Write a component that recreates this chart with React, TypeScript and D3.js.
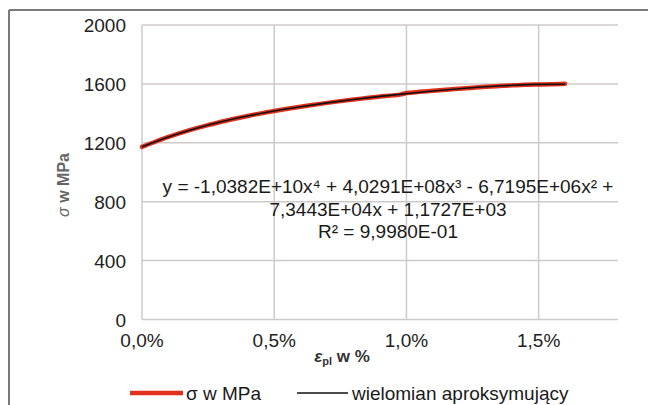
import React from "react";
import * as d3 from "d3";

const xTicks = [0, 0.5, 1.0, 1.5];
const yTicks = [0, 400, 800, 1200, 1600, 2000];

// measured curve (strain in %, stress in MPa)
const strain = [0, 0.05, 0.1, 0.15, 0.2, 0.25, 0.3, 0.35, 0.4, 0.45, 0.5, 0.55, 0.6, 0.65, 0.7, 0.75, 0.8, 0.85, 0.9, 0.95, 0.98, 1.0, 1.05, 1.1, 1.15, 1.2, 1.25, 1.3, 1.35, 1.4, 1.45, 1.5, 1.55, 1.6];
const stress = [1172, 1207, 1240, 1269, 1296, 1320, 1343, 1363, 1382, 1400, 1416, 1431, 1445, 1458, 1471, 1483, 1494, 1504, 1514, 1522, 1529, 1538, 1546, 1553, 1560, 1567, 1574, 1580, 1585, 1590, 1594, 1596, 1598, 1601];

// approximating polynomial (trend line)
const fitStrain = [0, 0.1, 0.2, 0.3, 0.4, 0.5, 0.6, 0.7, 0.8, 0.9, 1.0, 1.1, 1.2, 1.3, 1.4, 1.5, 1.6];
const fitStress = [1173, 1240, 1296, 1343, 1382, 1416, 1445, 1471, 1494, 1515, 1534, 1552, 1567, 1581, 1591, 1597, 1598];

const eqLines = [
  "y = -1,0382E+10x\u2074 + 4,0291E+08x\u00B3 - 6,7195E+06x\u00B2 +",
  "7,3443E+04x + 1,1727E+03",
  "R\u00B2 = 9,9980E-01",
];
const legendLabels = ["\u03C3 w MPa", "wielomian aproksymuj\u0105cy"];

const W = 648, H = 405;
const L = 142, R = 618, T = 25, B = 319.5;
const font = "'Liberation Sans', Arial, sans-serif";

export default function App() {
  const x = d3.scaleLinear().domain([0, 1.8]).range([L, R]);
  const y = d3.scaleLinear().domain([0, 2000]).range([B, T]);
  const fmtX = (v: number) => v.toFixed(1).replace(".", ",") + "%";

  const dataLine = d3.line<number>().x((_, i) => x(strain[i])).y((d) => y(d)).curve(d3.curveMonotoneX)(stress) || "";
  const fitLine = d3.line<number>().x((_, i) => x(fitStrain[i])).y((d) => y(d)).curve(d3.curveMonotoneX)(fitStress) || "";

  return (
    <svg width={W} height={H} style={{ position: "absolute", left: 0, top: 0, background: "#fff" }} fontFamily={font}>
      <rect x={0} y={0} width={W} height={H} fill="#fff" />
      {/* frame */}
      <line x1={9} y1={10} x2={W} y2={10} stroke="#7a7a7a" strokeWidth={2} />
      <line x1={9} y1={10} x2={9} y2={H} stroke="#7a7a7a" strokeWidth={2} />
      {/* grid */}
      {yTicks.map((t) => (
        <line key={"gy" + t} x1={L} x2={R} y1={y(t)} y2={y(t)} stroke="#cfcaca" strokeWidth={1.5} />
      ))}
      {xTicks.map((t) => (
        <line key={"gx" + t} x1={x(t)} x2={x(t)} y1={T} y2={B} stroke="#cfcaca" strokeWidth={1.5} />
      ))}
      {/* y tick labels */}
      {yTicks.map((t) => (
        <text key={"ty" + t} x={126} y={y(t) + 7} textAnchor="end" fontSize={19} fill="#222">{t}</text>
      ))}
      {/* x tick labels */}
      {xTicks.map((t) => (
        <text key={"tx" + t} x={x(t)} y={347} textAnchor="middle" fontSize={19} fill="#222">{fmtX(t)}</text>
      ))}
      {/* curves */}
      <path d={dataLine} fill="none" stroke="#e2301c" strokeWidth={4.5} strokeLinejoin="round" strokeLinecap="round" />
      <path d={fitLine} fill="none" stroke="#111" strokeWidth={1.6} />
      {/* equation */}
      {eqLines.map((s, i) => (
        <text key={"eq" + i} x={388} y={193 + i * 22.5} textAnchor="middle" fontSize={19} fill="#1a1a1a">{s}</text>
      ))}
      {/* axis titles */}
      <text transform="translate(69,185) rotate(-90)" textAnchor="middle" fontSize={16} fontWeight="bold" fill="#666">
        <tspan fontStyle="italic" fontWeight="normal">{"\u03C3"}</tspan>
        <tspan>{" w MPa"}</tspan>
      </text>
      <text x={342} y={362} textAnchor="middle" fontSize={17} fontWeight="bold" fill="#333">
        <tspan fontStyle="italic">{"\u03B5"}</tspan>
        <tspan fontSize={11} dy={3}>pl</tspan>
        <tspan dy={-3}>{" w %"}</tspan>
      </text>
      {/* legend */}
      <line x1={130} x2={183} y1={393} y2={393} stroke="#e2301c" strokeWidth={4.5} />
      <text x={186} y={400} fontSize={19} fill="#1a1a1a">{legendLabels[0]}</text>
      <line x1={297} x2={348} y1={393} y2={393} stroke="#111" strokeWidth={1.6} />
      <text x={352} y={400} fontSize={19} fill="#1a1a1a">{legendLabels[1]}</text>
    </svg>
  );
}
